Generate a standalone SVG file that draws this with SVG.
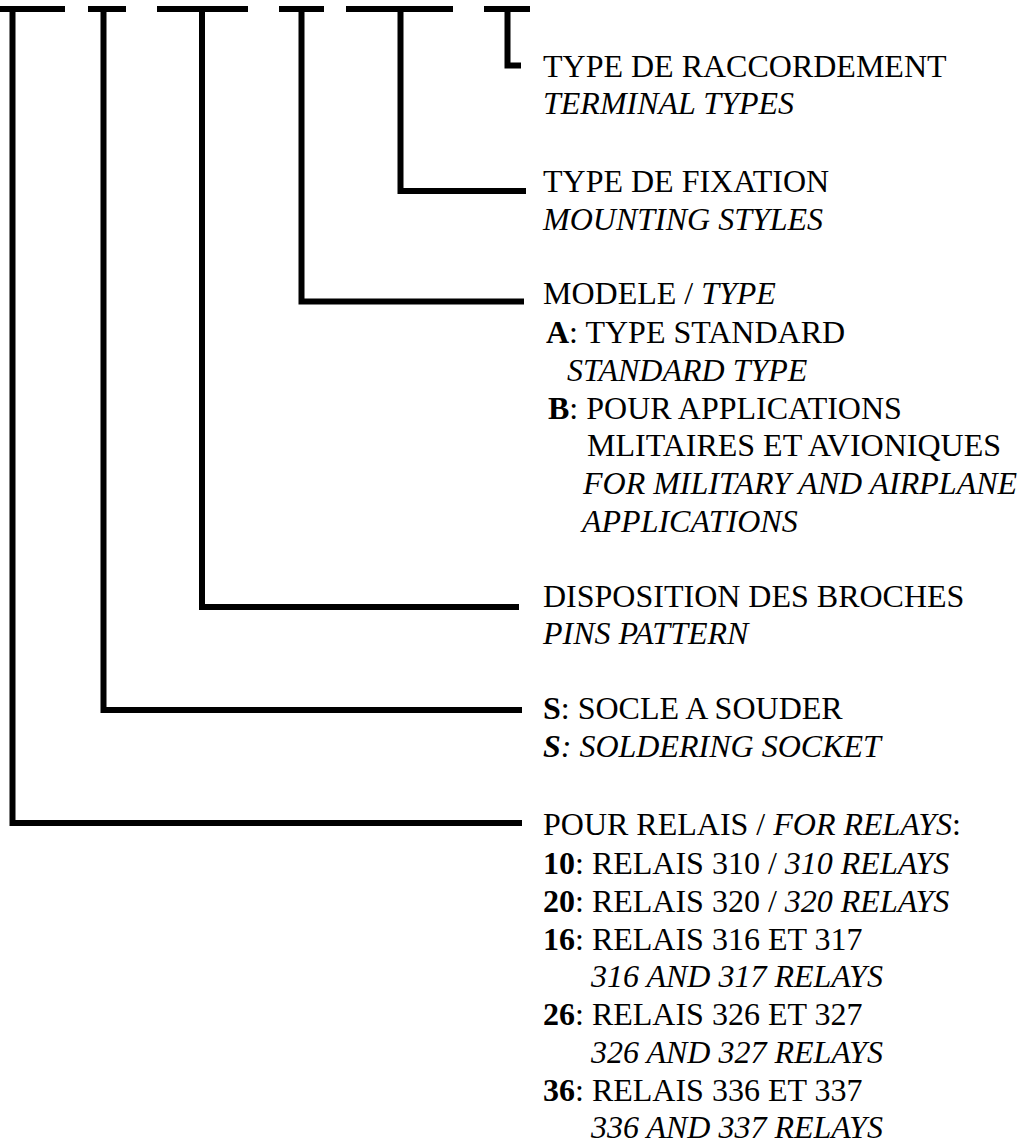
<svg xmlns="http://www.w3.org/2000/svg" width="1027" height="1142" viewBox="0 0 1027 1142">
<style>
text{font-family:"Liberation Serif","Times New Roman",serif;font-size:32px;fill:#000}
.i{font-style:italic}
.b{font-weight:bold}
.ln{fill:none;stroke:#000;stroke-width:6;stroke-linejoin:miter;stroke-linecap:butt}
</style>
<rect width="1027" height="1142" fill="#fff"/>
<g id="code">
<path class="ln" d="M0,9H65M88,9H126M157,9H248M279,9H324M346,9H453M484,9H530"/>
</g>
<g id="connectors">
<path class="ln" d="M507.5,6V65.5H521"/>
<path class="ln" d="M400.5,6V191H526"/>
<path class="ln" d="M301.5,6V301.5H524"/>
<path class="ln" d="M202,6V607H519"/>
<path class="ln" d="M103.5,6V710H522"/>
<path class="ln" d="M12.5,6V823H522"/>
</g>
<g id="terminal">
<text x="543" y="77">TYPE DE RACCORDEMENT</text>
<text x="543" y="114" class="i">TERMINAL TYPES</text>
</g>
<g id="mounting">
<text x="543" y="192">TYPE DE FIXATION</text>
<text x="543" y="230" class="i">MOUNTING STYLES</text>
</g>
<g id="model">
<text x="543" y="304">MODELE / <tspan class="i">TYPE</tspan></text>
<text x="546" y="342.5"><tspan class="b">A</tspan>: TYPE STANDARD</text>
<text x="567" y="380.5" class="i">STANDARD TYPE</text>
<text x="548" y="418.5"><tspan class="b">B</tspan>: POUR APPLICATIONS</text>
<text x="587" y="456">MLITAIRES ET AVIONIQUES</text>
<text x="583" y="494" class="i">FOR MILITARY AND AIRPLANE</text>
<text x="582" y="532" class="i">APPLICATIONS</text>
</g>
<g id="pins">
<text x="543" y="607">DISPOSITION DES BROCHES</text>
<text x="543" y="644" class="i">PINS PATTERN</text>
</g>
<g id="socket">
<text x="543" y="718.5"><tspan class="b">S</tspan>: SOCLE A SOUDER</text>
<text x="543" y="756.5" class="i"><tspan class="b">S</tspan>: SOLDERING SOCKET</text>
</g>
<g id="relays">
<text x="543" y="835">POUR RELAIS / <tspan class="i">FOR RELAYS</tspan>:</text>
<text x="543" y="873.5"><tspan class="b">10</tspan>: RELAIS 310 / <tspan class="i">310 RELAYS</tspan></text>
<text x="543" y="911.5"><tspan class="b">20</tspan>: RELAIS 320 / <tspan class="i">320 RELAYS</tspan></text>
<text x="543" y="949.5"><tspan class="b">16</tspan>: RELAIS 316 ET 317</text>
<text x="591" y="987" class="i">316 AND 317 RELAYS</text>
<text x="543" y="1025"><tspan class="b">26</tspan>: RELAIS 326 ET 327</text>
<text x="591" y="1063" class="i">326 AND 327 RELAYS</text>
<text x="543" y="1101"><tspan class="b">36</tspan>: RELAIS 336 ET 337</text>
<text x="591" y="1138" class="i">336 AND 337 RELAYS</text>
</g>
</svg>
